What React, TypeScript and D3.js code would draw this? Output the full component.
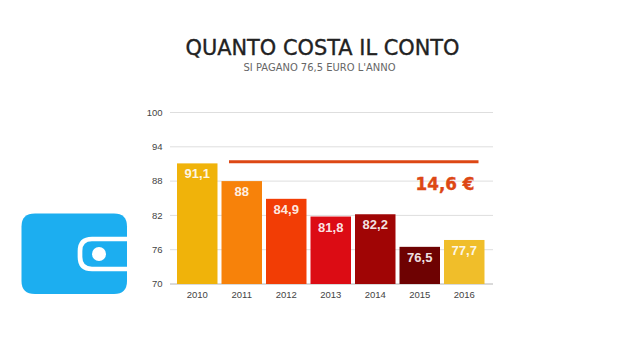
import React, { useEffect } from "react";
import * as d3 from "d3";

const years = ["2010", "2011", "2012", "2013", "2014", "2015", "2016"];
const values = [91.1, 88, 84.9, 81.8, 82.2, 76.5, 77.7];
const valueLabels = ["91,1", "88", "84,9", "81,8", "82,2", "76,5", "77,7"];
const barColors = ["#F0B30A", "#F7820A", "#F23D05", "#DC0C14", "#A00505", "#6E0202", "#F0BE2A"];
const yTicks = [70, 76, 82, 88, 94, 100];
const gapLevel = 91.4;
const gapLabel = "14,6 €";
const title = "QUANTO COSTA IL CONTO";
const subtitle = "SI PAGANO 76,5 EURO L'ANNO";

const sans = "'Liberation Sans', Arial, sans-serif";
const display = "'DejaVu Sans', sans-serif";

export default function App() {
  useEffect(() => {
    document.body.style.margin = "0";
    document.body.style.background = "#fff";
  }, []);

  const x = d3.scaleBand<string>().domain(years).range([175, 486.5]).paddingInner(0.09).paddingOuter(0.045);
  const y = d3.scaleLinear().domain([70, 100]).range([284, 112.5]);

  return (
    <svg width={640} height={360} style={{ display: "block" }}>
      <text x={322.5} y={54.5} textAnchor="middle" fontFamily={display} fontSize={21} fill="#222" stroke="#222" strokeWidth={0.35} textLength={274} lengthAdjust="spacingAndGlyphs">{title}</text>
      <text x={319.5} y={70.5} textAnchor="middle" fontFamily={display} fontSize={10} fill="#666" textLength={152} lengthAdjust="spacingAndGlyphs">{subtitle}</text>

      {yTicks.map((t) => (
        <g key={t}>
          <line x1={170} x2={493} y1={y(t)} y2={y(t)} stroke={t === 70 ? "#b4b4b4" : "#dedede"} strokeWidth={1} />
          <text x={162.5} y={y(t) + 3.3} textAnchor="end" fontFamily={sans} fontSize={9.5} fill="#444">{t}</text>
        </g>
      ))}

      {years.map((yr, i) => {
        const bx = x(yr)!;
        const cx = bx + x.bandwidth() / 2;
        return (
          <g key={yr}>
            <rect x={bx} y={y(values[i])} width={x.bandwidth()} height={y(70) - y(values[i])} fill={barColors[i]} />
            <text x={cx} y={y(values[i]) + 15} textAnchor="middle" fontFamily={sans} fontSize={13} fontWeight={700} fill="#fff" fillOpacity={0.9}>{valueLabels[i]}</text>
            <text x={cx} y={297.5} textAnchor="middle" fontFamily={sans} fontSize={9.5} fill="#444">{yr}</text>
          </g>
        );
      })}

      <line x1={229} x2={478.5} y1={y(gapLevel)} y2={y(gapLevel)} stroke="#DD4714" strokeWidth={3} />
      <text x={445} y={190} textAnchor="middle" fontFamily={display} fontWeight={700} fontSize={18.5} fill="#DD4714" stroke="#DD4714" strokeWidth={0.4} textLength={59} lengthAdjust="spacingAndGlyphs">{gapLabel}</text>

      <g>
        <path d="M35 213.5 H114 Q127 213.5 127 226.5 V281 Q127 294 114 294 H35 Q21.5 294 21.5 281 V226.5 Q21.5 213.5 35 213.5 Z" fill="#1CAEF0" />
        <path d="M127 239 H92 Q80 239 80 251 V257 Q80 269 92 269 H127" fill="none" stroke="#fff" strokeWidth={4.7} />
        <circle cx={99} cy={254} r={7} fill="#fff" />
      </g>
    </svg>
  );
}
